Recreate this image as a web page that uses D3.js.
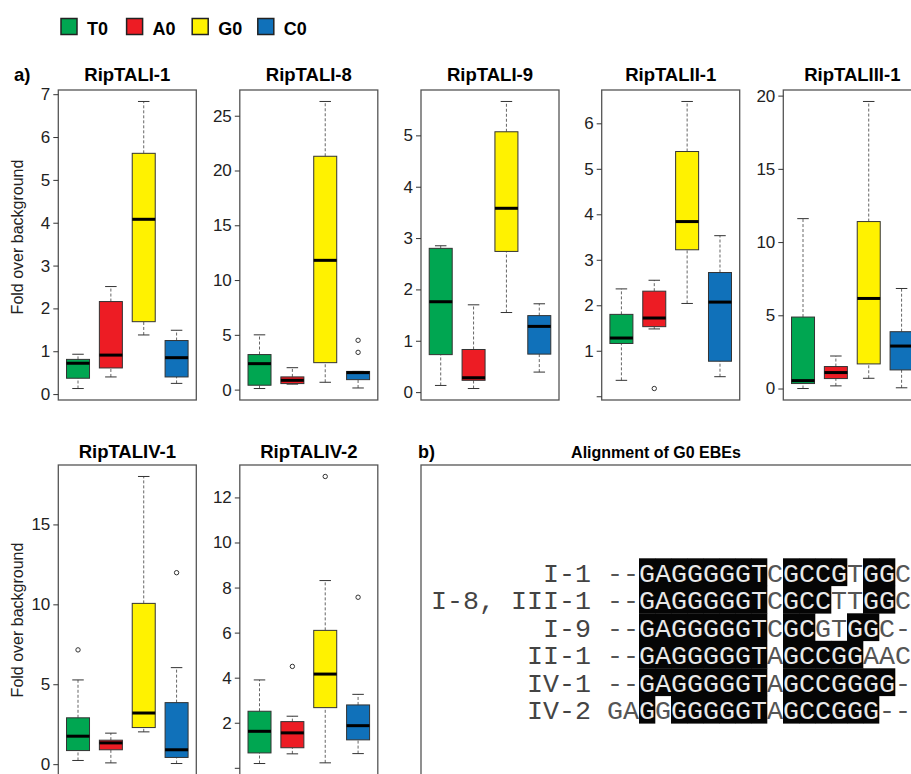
<!DOCTYPE html>
<html>
<head>
<meta charset="utf-8">
<script src="https://cdn.jsdelivr.net/npm/d3@7"></script>
<style>
body { margin: 0; background: #fff; }
svg { font-family: "Liberation Sans", Arial, sans-serif; }
</style>
</head>
<body>
<svg width="911" height="774"></svg>
<script>
// groups and colours
const groups = ["T0", "A0", "G0", "C0"];
const groupColors = ["#00a651", "#ed1c24", "#fff200", "#1071ba"];

const panelNames = ["RipTALI-1", "RipTALI-8", "RipTALI-9", "RipTALII-1", "RipTALIII-1", "RipTALIV-1", "RipTALIV-2"];

// per group: [low whisker, Q1, median, Q3, high whisker]
const statsI1 = [[0.13, 0.37, 0.72, 0.81, 0.93], [0.40, 0.61, 0.91, 2.16, 2.51], [1.38, 1.69, 4.08, 5.62, 6.83], [0.25, 0.40, 0.85, 1.25, 1.49]];
const statsI8 = [[0.10, 0.40, 2.37, 3.20, 5.00], [0.50, 0.55, 0.85, 1.16, 2.00], [0.67, 2.46, 11.8, 21.3, 26.3], [0.15, 0.91, 1.55, 1.66, 1.66]];
const statsI9 = [[0.13, 0.73, 1.76, 2.80, 2.85], [0.07, 0.23, 0.28, 0.83, 1.70], [1.55, 2.74, 3.58, 5.07, 5.66], [0.39, 0.74, 1.28, 1.49, 1.72]];
const statsII1 = [[0.35, 1.16, 1.28, 1.80, 2.36], [1.48, 1.53, 1.72, 2.31, 2.55], [2.04, 3.22, 3.84, 5.38, 6.48], [0.43, 0.77, 2.07, 2.72, 3.53]];
const statsIII1 = [[0.00, 0.34, 0.54, 4.88, 11.6], [0.18, 0.68, 1.09, 1.50, 2.22], [0.70, 1.68, 6.15, 11.4, 19.6], [0.05, 1.27, 2.90, 3.88, 6.83]];
const statsIV1 = [[0.23, 0.85, 1.75, 2.90, 5.27], [0.08, 0.90, 1.33, 1.50, 1.94], [2.02, 2.29, 3.20, 10.06, 18.0], [0.04, 0.42, 0.90, 3.85, 6.04]];
const statsIV2 = [[0.19, 0.66, 1.62, 2.51, 3.90], [0.62, 0.89, 1.55, 2.05, 2.29], [0.22, 2.67, 4.16, 6.10, 8.31], [0.63, 1.24, 1.87, 2.79, 3.26]];

// outliers per group
const outI1 = [[], [], [], []];
const outI8 = [[], [], [], [3.4, 4.5]];
const outI9 = [[], [], [], []];
const outII1 = [[], [0.17], [], []];
const outIII1 = [[], [], [], []];
const outIV1 = [[7.15], [], [], [11.98]];
const outIV2 = [[], [4.5], [12.93], [7.57]];

// y tick values
const ticksI1 = [0, 1, 2, 3, 4, 5, 6, 7];
const ticksI8 = [0, 5, 10, 15, 20, 25];
const ticksI9 = [0, 1, 2, 3, 4, 5];
const ticksII1 = [0, 1, 2, 3, 4, 5, 6];
const ticksIII1 = [0, 5, 10, 15, 20];
const ticksIV1 = [0, 5, 10, 15];
const ticksIV2 = [0, 2, 4, 6, 8, 10, 12];
// panels whose zero tick has no label in the original
const unlabelledZero = ["RipTALII-1", "RipTALIV-2"];

// alignment of G0 EBEs
const alignLabels = ["I-1", "I-8, III-1", "I-9", "II-1", "IV-1", "IV-2"];
const alignSeqs = [
    "--GAGGGGGTCGCCGTGGC",
    "--GAGGGGGTCGCCTTGGC",
    "--GAGGGGGTCGCGTGGC-",
    "--GAGGGGGTAGCCGGAAC",
    "--GAGGGGGTAGCCGGGG-",
    "GAGGGGGGGTAGCCGGG--"
];

const svg = d3.select("svg");

const panels = [
    {name: panelNames[0], stats: statsI1, out: outI1, ticks: ticksI1, col: 0, row: 0},
    {name: panelNames[1], stats: statsI8, out: outI8, ticks: ticksI8, col: 1, row: 0},
    {name: panelNames[2], stats: statsI9, out: outI9, ticks: ticksI9, col: 2, row: 0},
    {name: panelNames[3], stats: statsII1, out: outII1, ticks: ticksII1, col: 3, row: 0},
    {name: panelNames[4], stats: statsIII1, out: outIII1, ticks: ticksIII1, col: 4, row: 0},
    {name: panelNames[5], stats: statsIV1, out: outIV1, ticks: ticksIV1, col: 0, row: 1},
    {name: panelNames[6], stats: statsIV2, out: outIV2, ticks: ticksIV2, col: 1, row: 1}
];

const colX = [58.3, 239.8, 421, 601.7, 783.3];
const rowY = [90, 465];
const titleY = [81, 458];
const plotW = 138, plotH = 310;

panels.forEach(function(p) {
    let g = svg.append("g")
        .attr("transform", `translate(${colX[p.col]},${rowY[p.row]})`);

    // R-like 4% padding around the data range
    let all = p.stats.flat().concat(p.out.flat());
    let lo = d3.min(all), hi = d3.max(all), pad = (hi - lo) * 0.04;
    let y = d3.scaleLinear().domain([lo - pad, hi + pad]).range([plotH, 0]);
    let x = d3.scaleLinear().domain([0.4, 4.6]).range([0, plotW]);
    let bw = x(0.35) - x(0), cw = x(0.175) - x(0);

    let boxes = g.selectAll("g.box")
        .data(p.stats.map((s, i) => ({s: s, i: i, out: p.out[i]})))
        .join("g")
        .attr("class", "box");

    // whiskers
    boxes.append("line")
        .attr("x1", d => x(d.i + 1)).attr("x2", d => x(d.i + 1))
        .attr("y1", d => y(d.s[3])).attr("y2", d => y(d.s[4]))
        .attr("stroke", "#666").attr("stroke-dasharray", "3,2");
    boxes.append("line")
        .attr("x1", d => x(d.i + 1)).attr("x2", d => x(d.i + 1))
        .attr("y1", d => y(d.s[0])).attr("y2", d => y(d.s[1]))
        .attr("stroke", "#666").attr("stroke-dasharray", "3,2");
    // caps
    [0, 4].forEach(function(k) {
        boxes.append("line")
            .attr("x1", d => x(d.i + 1) - cw).attr("x2", d => x(d.i + 1) + cw)
            .attr("y1", d => y(d.s[k])).attr("y2", d => y(d.s[k]))
            .attr("stroke", "#333");
    });
    // box
    boxes.append("rect")
        .attr("x", d => x(d.i + 1) - bw)
        .attr("width", 2 * bw)
        .attr("y", d => y(d.s[3]))
        .attr("height", d => y(d.s[1]) - y(d.s[3]))
        .attr("fill", d => groupColors[d.i])
        .attr("stroke", "#333");
    // median
    boxes.append("line")
        .attr("x1", d => x(d.i + 1) - bw).attr("x2", d => x(d.i + 1) + bw)
        .attr("y1", d => y(d.s[2])).attr("y2", d => y(d.s[2]))
        .attr("stroke", "#000").attr("stroke-width", 3);
    // outliers
    boxes.selectAll("circle")
        .data(d => d.out.map(v => ({v: v, i: d.i})))
        .join("circle")
        .attr("cx", d => x(d.i + 1))
        .attr("cy", d => y(d.v))
        .attr("r", 2.2)
        .attr("fill", "none")
        .attr("stroke", "#333");

    // frame
    g.append("rect")
        .attr("width", plotW).attr("height", plotH)
        .attr("fill", "none")
        .attr("stroke", "#555").attr("stroke-width", 1.3);

    // y axis
    let axis = g.append("g")
        .call(d3.axisLeft(y)
            .tickValues(p.ticks)
            .tickSize(5)
            .tickPadding(3)
            .tickFormat(d => (d === 0 && unlabelledZero.includes(p.name)) ? "" : d));
    axis.select(".domain").remove();
    axis.selectAll("line").attr("stroke", "#333");
    axis.selectAll("text")
        .attr("fill", "#222")
        .style("font-size", "17px")
        .style("font-family", "'Liberation Sans', Arial, sans-serif");

    // title
    svg.append("text")
        .attr("x", colX[p.col] + plotW / 2)
        .attr("y", titleY[p.row])
        .attr("text-anchor", "middle")
        .style("font-weight", "bold")
        .style("font-size", "18.5px")
        .text(p.name);
});

// y labels
[237, 620].forEach(function(cy) {
    svg.append("text")
        .attr("transform", `translate(23,${cy}) rotate(-90)`)
        .attr("text-anchor", "middle")
        .style("font-size", "16px")
        .attr("fill", "#222")
        .text("Fold over background");
});

// panel letters
svg.append("text").attr("x", 14).attr("y", 81)
    .style("font-weight", "bold").style("font-size", "18.5px").text("a)");
svg.append("text").attr("x", 418).attr("y", 458)
    .style("font-weight", "bold").style("font-size", "18px").text("b)");

// legend
let legend = svg.append("g").selectAll("g")
    .data(groups)
    .join("g")
    .attr("transform", (d, i) => `translate(${61 + i * 65.6},18.5)`);
legend.append("rect")
    .attr("width", 16).attr("height", 16)
    .attr("fill", (d, i) => groupColors[i])
    .attr("stroke", "#222").attr("stroke-width", 1.5);
legend.append("text")
    .attr("x", 26).attr("y", 16)
    .style("font-weight", "bold").style("font-size", "18px")
    .text(d => d);

// panel b: alignment
svg.append("text")
    .attr("x", 656).attr("y", 458)
    .attr("text-anchor", "middle")
    .style("font-weight", "bold").style("font-size", "16px")
    .text("Alignment of G0 EBEs");
svg.append("rect")
    .attr("x", 421).attr("y", 465)
    .attr("width", 600).attr("height", 400)
    .attr("fill", "none")
    .attr("stroke", "#555").attr("stroke-width", 1.3);

let nCol = alignSeqs[0].length;
// consensus: unique most frequent residue in a column (gaps never shaded)
let consensus = d3.range(nCol).map(function(c) {
    let counts = d3.rollups(alignSeqs, v => v.length, s => s[c])
        .sort((a, b) => b[1] - a[1]);
    if (counts.length > 1 && counts[0][1] === counts[1][1]) return null;
    return counts[0][0] === "-" ? null : counts[0][0];
});

let cx = d3.scaleLinear().domain([0, nCol]).range([607, 607 + nCol * 16]);
let ry = d3.scaleBand().domain(d3.range(alignSeqs.length)).range([558.3, 558.3 + 27.5 * alignSeqs.length]);

let cells = [];
alignSeqs.forEach(function(s, r) {
    s.split("").forEach(function(ch, c) {
        cells.push({r: r, c: c, ch: ch, on: ch === consensus[c]});
    });
});

let mono = "'Liberation Mono', 'Courier New', monospace";
svg.append("g").selectAll("rect")
    .data(cells.filter(d => d.on))
    .join("rect")
    .attr("x", d => cx(d.c))
    .attr("y", d => ry(d.r))
    .attr("width", cx(1) - cx(0) + 0.3)
    .attr("height", ry.bandwidth() + 0.3)
    .attr("fill", "#050505");

svg.append("g").selectAll("text")
    .data(cells)
    .join("text")
    .attr("x", d => cx(d.c) + 8)
    .attr("y", d => ry(d.r) + 23.4)
    .attr("text-anchor", "middle")
    .style("font-family", mono)
    .style("font-size", "26.67px")
    .attr("fill", d => d.on ? "#e8e8e8" : "#555")
    .text(d => d.ch);

svg.append("g").selectAll("text")
    .data(alignLabels)
    .join("text")
    .attr("x", cx(0) - 16)
    .attr("y", (d, i) => ry(i) + 23.4)
    .attr("text-anchor", "end")
    .style("font-family", mono)
    .style("font-size", "26.67px")
    .attr("fill", "#444")
    .style("white-space", "pre")
    .text(d => d);
</script>
</body>
</html>
